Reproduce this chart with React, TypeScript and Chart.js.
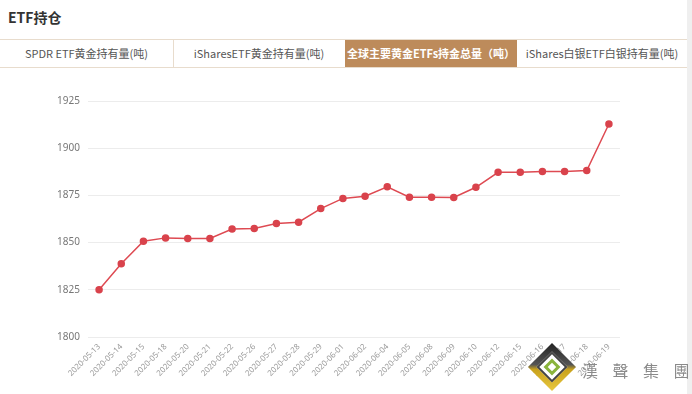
import React, { useEffect, useRef } from "react";
import { Chart, registerables } from "chart.js";

Chart.register(...registerables);

const categories = [
  "2020-05-13", "2020-05-14", "2020-05-15", "2020-05-18", "2020-05-20", "2020-05-21",
  "2020-05-22", "2020-05-26", "2020-05-27", "2020-05-28", "2020-05-29", "2020-06-01",
  "2020-06-02", "2020-06-04", "2020-06-05", "2020-06-08", "2020-06-09", "2020-06-10",
  "2020-06-12", "2020-06-15", "2020-06-16", "2020-06-17", "2020-06-18", "2020-06-19",
];
const holdings = [
  1825.0, 1838.8, 1850.7, 1852.5, 1852.2, 1852.2,
  1857.2, 1857.5, 1860.1, 1860.8, 1868.0, 1873.4,
  1874.6, 1879.6, 1874.0, 1874.0, 1873.9, 1879.3,
  1887.2, 1887.2, 1887.6, 1887.6, 1888.2, 1912.8,
];
const tabs = ["SPDR ETF黄金持有量(吨)", "iSharesETF黄金持有量(吨)", "全球主要黄金ETFs持金总量（吨）", "iShares白银ETF白银持有量(吨)"];
const activeTab = 2;
const yMin = 1800;
const yMax = 1925;
const yStep = 25;

const tabEdges = [0, 173, 345, 517, 687];

export default function App() {
  const ref = useRef<HTMLCanvasElement | null>(null);
  useEffect(() => {
    document.body.style.margin = "0";
    const canvas = ref.current;
    if (!canvas) return;
    const chart = new Chart(canvas, {
      type: "line",
      data: {
        labels: categories,
        datasets: [
          {
            data: holdings,
            borderColor: "#de4a52",
            backgroundColor: "#de4a52",
            borderWidth: 1.5,
            pointRadius: 3,
            pointBackgroundColor: "#d9434c",
            pointBorderColor: "#d9434c",
            tension: 0,
          },
        ],
      },
      options: {
        responsive: false,
        animation: false,
        layout: { padding: { left: 0, right: 72, top: 33, bottom: 0 } },
        plugins: { legend: { display: false }, tooltip: { enabled: false } },
        scales: {
          x: {
            offset: true,
            grid: { display: false, drawTicks: false },
            border: { display: false },
            ticks: {
              autoSkip: false,
              minRotation: 45,
              maxRotation: 45,
              color: "#9a9a9a",
              font: { family: "Noto Sans", size: 8 },
              padding: 5,
            },
            afterFit: (s: any) => { s.height = 57; },
          },
          y: {
            min: yMin,
            max: yMax,
            grid: { color: "#ececec", drawTicks: false, lineWidth: 1 },
            border: { display: false },
            ticks: {
              stepSize: yStep,
              color: "#777",
              font: { family: "Noto Sans", size: 10 },
              padding: 8,
              callback: (v: any) => String(v),
            },
            afterFit: (s: any) => { s.width = 88; },
          },
        },
      },
    });
    return () => chart.destroy();
  }, []);

  return (
    <div style={{ position: "fixed", left: 0, top: 0, width: 692, height: 394, background: "#fff", overflow: "hidden", fontFamily: "'Noto Sans CJK SC', 'Noto Sans', sans-serif" }}>
      <div style={{ position: "absolute", left: 8, top: 7, fontSize: 14, fontWeight: 700, color: "#333", lineHeight: "20px" }}>ETF持仓</div>
      <div style={{ position: "absolute", left: 0, top: 39, width: 687, height: 1, background: "#e8dccd" }} />
      <div style={{ position: "absolute", left: 0, top: 67, width: 687, height: 1, background: "#e8dccd" }} />
      {tabs.map((t, i) => (
        <div
          key={t}
          style={{
            position: "absolute",
            left: tabEdges[i],
            top: 40,
            width: tabEdges[i + 1] - tabEdges[i],
            height: 27,
            background: i === activeTab ? "#bd8b5b" : "transparent",
            color: i === activeTab ? "#fff" : "#555",
            fontWeight: i === activeTab ? 700 : 400,
            fontSize: 11,
            textAlign: "center",
            lineHeight: "27px",
            whiteSpace: "nowrap",
          }}
        >
          {t}
        </div>
      ))}
      <div style={{ position: "absolute", left: 173, top: 40, width: 1, height: 27, background: "#e8dccd" }} />
      <div style={{ position: "absolute", left: 687, top: 0, width: 5, height: 394, background: "#efefef" }} />
      <canvas ref={ref} width={692} height={326} style={{ position: "absolute", left: 0, top: 68, width: 692, height: 326 }} />
      <div style={{ position: "absolute", left: 535, top: 350, width: 34, height: 34, transform: "rotate(45deg)", background: "linear-gradient(135deg, #222 0%, #555 45%, #c9a21c 55%, #e8c840 100%)" }}>
        <div style={{ position: "absolute", left: 6, top: 6, width: 22, height: 22, background: "#fff", border: "2px solid #444", boxSizing: "border-box" }}>
          <div style={{ position: "absolute", left: 3, top: 3, width: 12, height: 12, border: "3px solid #8ab43c", boxSizing: "border-box", background: "#fff" }} />
        </div>
      </div>
      <div style={{ position: "absolute", left: 582, top: 360, fontSize: 16, lineHeight: "20px", color: "#8a8a8a", letterSpacing: 14.5, whiteSpace: "nowrap", fontFamily: "'Noto Sans CJK TC', sans-serif" }}>漢聲集團</div>
    </div>
  );
}
